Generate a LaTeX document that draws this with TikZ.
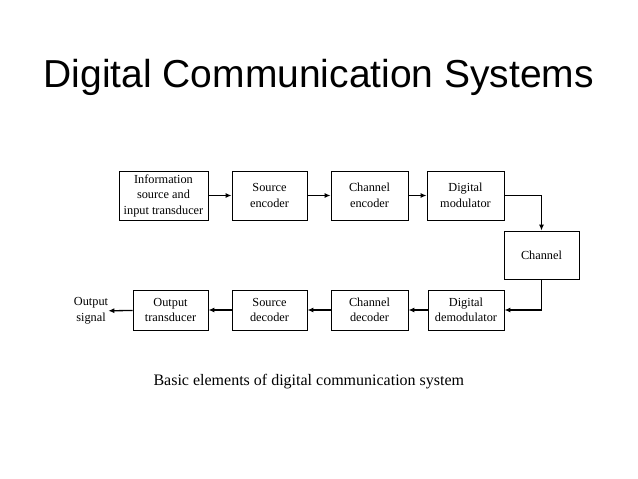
\documentclass[tikz,border=0pt]{standalone}
\usepackage{fontspec}
\usepackage{tikz}
\usetikzlibrary{arrows.meta}
\setmainfont{Liberation Serif}
\newfontfamily\titlefont{Liberation Sans}
\def\bf{\fontsize{12.3}{15.5}\selectfont}

\begin{document}
\begin{tikzpicture}[x=1pt,y=-1pt,
  blk/.style={draw,line width=0.8pt,inner sep=0pt,align=center,font=\bf,minimum height=49pt},
  lnk/.style={line width=1.3pt,-{Latex[length=6pt,width=5pt]}}]
  \useasboundingbox (0,0) rectangle (638,479);
  \node[anchor=base west,font=\titlefont\fontsize{39}{44}\selectfont] (ttl) at (40,87) {Digital Communication Systems};
  % upper row
  \node[blk,minimum width=89pt] (src) at (163.5,195.5) {Information\\source and\\input transducer};
  \node[blk,minimum width=75pt] (senc) at (269.5,195.5) {Source\\encoder};
  \node[blk,minimum width=77pt] (cenc) at (369.5,195.5) {Channel\\encoder};
  \node[blk,minimum width=77pt] (mod) at (465.5,195.5) {Digital\\modulator};
  \node[blk,minimum width=75pt,minimum height=48pt] (chan) at (541.5,255) {Channel};
  % lower row
  \node[blk,minimum width=76pt,minimum height=40pt] (dem) at (466,310) {Digital\\demodulator};
  \node[blk,minimum width=77pt,minimum height=40pt] (cdec) at (369.5,310) {Channel\\decoder};
  \node[blk,minimum width=75pt,minimum height=40pt] (sdec) at (269.5,310) {Source\\decoder};
  \node[blk,minimum width=75pt,minimum height=40pt] (out) at (170.5,310) {Output\\transducer};
  \node[font=\bf,align=center,inner sep=0pt] (sig) at (91,311) {Output\\signal};
  \draw[lnk] (src)--(senc);
  \draw[lnk] (senc)--(cenc);
  \draw[lnk] (cenc)--(mod);
  \draw[lnk] (mod.east)-|(chan.north);
  \draw[lnk] (chan.south)|-(dem.east);
  \draw[lnk] (dem)--(cdec);
  \draw[lnk] (cdec)--(sdec);
  \draw[lnk] (sdec)--(out);
  \draw[lnk] (out)--(sig);
  \node[anchor=base west,font=\fontsize{16}{19}\selectfont] (cap) at (150,385) {Basic elements of digital communication system};
\end{tikzpicture}
\end{document}
